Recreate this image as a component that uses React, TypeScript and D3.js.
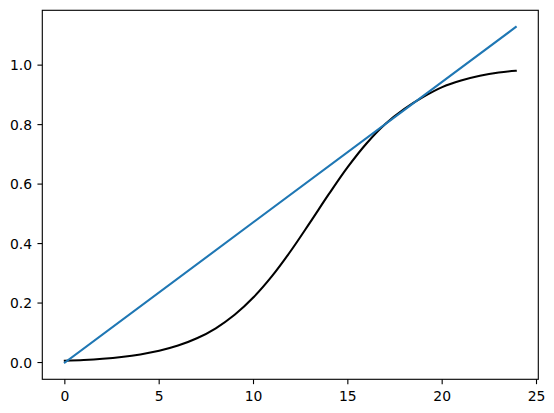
import React from "react";
import * as d3 from "d3";

const curveX = [0, 1, 2, 3, 4, 5, 6, 7, 8, 9, 10, 11, 12, 13, 14, 15, 16, 17, 18, 19, 20, 21, 22, 23, 23.9];
const curveY = [0.006, 0.0087, 0.0128, 0.0187, 0.0272, 0.0395, 0.0569, 0.0814, 0.1152, 0.1605, 0.2194, 0.2922, 0.3775, 0.4712, 0.5669, 0.6579, 0.7375, 0.803, 0.853, 0.893, 0.926, 0.948, 0.964, 0.975, 0.981];
const lineX = [0, 23.9];
const lineY = [0, 1.128];
const xTicks = [0, 5, 10, 15, 20, 25];
const yTicks = [0, 0.2, 0.4, 0.6, 0.8, 1.0];

const W = 554, H = 413;
const L = 42.3, R = 538.3, T = 10.3, B = 379.3;

export default function App() {
  const allX = [...curveX, ...lineX];
  const allY = [...curveY, ...lineY];
  const [x0, x1] = d3.extent(allX) as [number, number];
  const [y0, y1] = d3.extent(allY) as [number, number];
  const px = (x1 - x0) * 0.05, py = (y1 - y0) * 0.05;
  const x = d3.scaleLinear().domain([x0 - px, x1 + px]).range([L, R]);
  const y = d3.scaleLinear().domain([y0 - py, y1 + py]).range([B, T]);

  const curvePts: [number, number][] = curveX.map((v, i) => [v, curveY[i]]);
  const linePts: [number, number][] = lineX.map((v, i) => [v, lineY[i]]);
  const smooth = d3.line<[number, number]>().x(d => x(d[0])).y(d => y(d[1])).curve(d3.curveCatmullRom.alpha(0.5));
  const straight = d3.line<[number, number]>().x(d => x(d[0])).y(d => y(d[1]));

  const font = "'DejaVu Sans', sans-serif";
  const tickLen = 4.86;

  return (
    <svg width={W} height={H} style={{ position: "absolute", left: 0, top: 0, background: "#fff" }}>
      <rect x={0} y={0} width={W} height={H} fill="#fff" />
      <path d={smooth(curvePts) || ""} fill="none" stroke="#000" strokeWidth={2.08} strokeLinejoin="round" strokeLinecap="square" />
      <path d={straight(linePts) || ""} fill="none" stroke="#1f77b4" strokeWidth={2.08} strokeLinecap="square" />
      <rect x={L} y={T} width={R - L} height={B - T} fill="none" stroke="#000" strokeWidth={1.11} />
      {xTicks.map(t => (
        <g key={"x" + t}>
          <line x1={x(t)} x2={x(t)} y1={B} y2={B + tickLen} stroke="#000" strokeWidth={1.11} />
          <text x={x(t)} y={400.5} textAnchor="middle" fontFamily={font} fontSize={13.9} fill="#000">{t}</text>
        </g>
      ))}
      {yTicks.map(t => (
        <g key={"y" + t}>
          <line x1={L - tickLen} x2={L} y1={y(t)} y2={y(t)} stroke="#000" strokeWidth={1.11} />
          <text x={L - 2 * tickLen - 0.5} y={y(t) + 5} textAnchor="end" fontFamily={font} fontSize={13.9} fill="#000">{t.toFixed(1)}</text>
        </g>
      ))}
    </svg>
  );
}
